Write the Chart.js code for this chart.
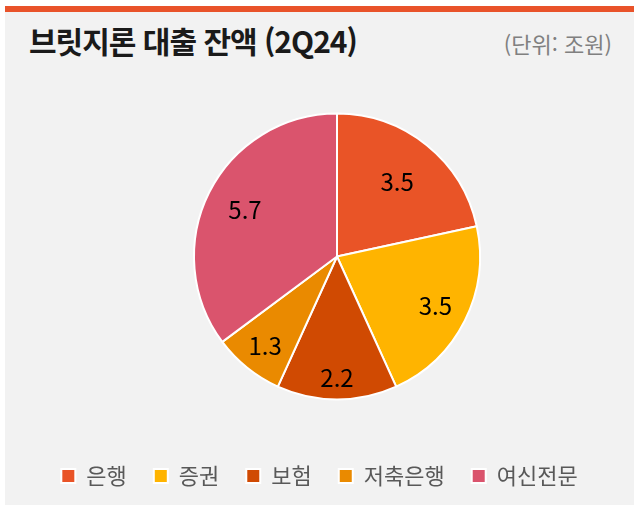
<!DOCTYPE html>
<html lang="ko">
<head>
<meta charset="utf-8">
<script src="https://cdn.jsdelivr.net/npm/chart.js@4"></script>
<style>
  body { margin: 0; background: #fff; font-family: "Noto Sans CJK KR", "Noto Sans", sans-serif; }
  #card { position: absolute; left: 5px; top: 6px; width: 629px; height: 493px; background: #F2F2F2; border-top: 6px solid #E9532A; }
  #title { position: absolute; left: 24px; top: 13px; font-size: 30px; line-height: 30px; font-weight: 700; color: #1a1a1a; letter-spacing: -1px; white-space: nowrap; }
  #unit { position: absolute; right: 22px; top: 20px; font-size: 22px; line-height: 22px; color: #808080; white-space: nowrap; }
  #wrap { position: absolute; left: 0; top: 63px; width: 629px; height: 430px; }
</style>
</head>
<body>
<div id="card">
  <div id="title">브릿지론 대출 잔액 (2Q24)</div>
  <div id="unit">(단위: 조원)</div>
  <div id="wrap"><canvas id="pie"></canvas></div>
</div>
<script>
const categories = ['은행', '증권', '보험', '저축은행', '여신전문'];
const balances = [3.5, 3.5, 2.2, 1.3, 5.7];
const colors = ['#E95427', '#FFB400', '#D04A02', '#EA8A00', '#DA546D'];

// 라벨을 중심에서 얼마나 떨어뜨릴지 (반지름 비율)
const labelDistance = [0.67, 0.77, 0.85, 0.8, 0.72];

// 조각 안쪽에 값 표시
const sliceLabels = {
    id: 'sliceLabels',
    afterDatasetsDraw(chart) {
        const ctx = chart.ctx;
        const meta = chart.getDatasetMeta(0);
        ctx.save();
        ctx.font = '24px "Noto Sans CJK KR", "Noto Sans", sans-serif';
        ctx.fillStyle = '#000';
        ctx.textAlign = 'center';
        ctx.textBaseline = 'middle';
        meta.data.forEach((arc, i) => {
            const p = arc.getProps(['x', 'y', 'startAngle', 'endAngle', 'outerRadius'], true);
            const mid = (p.startAngle + p.endAngle) / 2;
            const r = p.outerRadius * labelDistance[i];
            ctx.fillText(balances[i].toFixed(1), p.x + Math.cos(mid) * r, p.y + Math.sin(mid) * r);
        });
        ctx.restore();
    }
};

// 원은 범례보다 조금 오른쪽에 있음
const nudgePie = {
    id: 'nudgePie',
    afterLayout(chart) {
        chart.chartArea.left += 35;
        chart.chartArea.width = chart.chartArea.right - chart.chartArea.left;
    }
};

new Chart(document.getElementById('pie'), {
    type: 'pie',
    data: {
        labels: categories,
        datasets: [{
            data: balances,
            backgroundColor: colors,
            borderColor: '#fff',
            borderWidth: 2
        }]
    },
    options: {
        responsive: true,
        maintainAspectRatio: false,
        animation: false,
        radius: 143,
        layout: { padding: { top: 0, bottom: 8 } },
        plugins: {
            legend: {
                position: 'bottom',
                labels: {
                    boxWidth: 14,
                    boxHeight: 14,
                    padding: 27,
                    color: '#595959',
                    font: { family: '"Noto Sans CJK KR", "Noto Sans", sans-serif', size: 22 }
                }
            },
            tooltip: { enabled: false }
        }
    },
    plugins: [sliceLabels, nudgePie]
});
</script>
</body>
</html>
